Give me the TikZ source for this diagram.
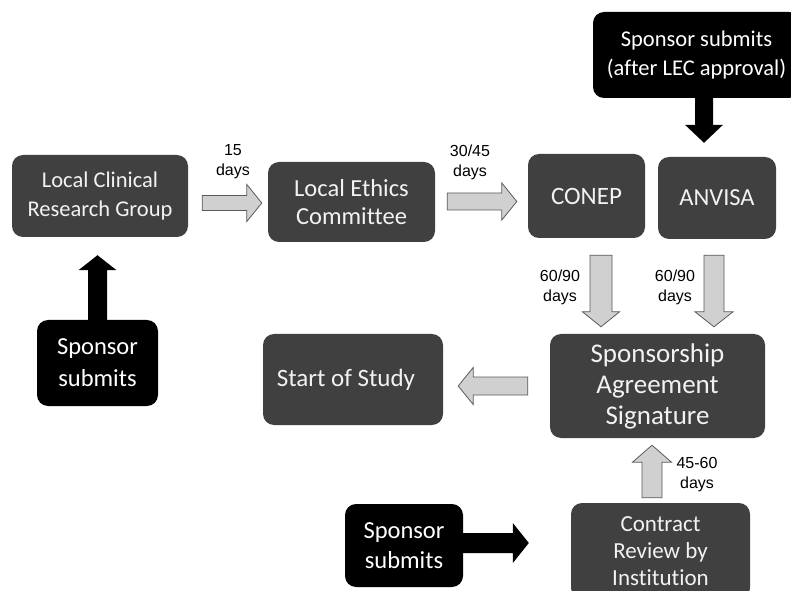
\documentclass[tikz,border=0pt]{standalone}
\usepackage{fontspec}
\setmainfont{Carlito}[Ligatures=NoCommon]
\newfontfamily\labfont{Liberation Sans}
\usetikzlibrary{calc}
\definecolor{boxgray}{HTML}{404040}
\definecolor{boxtext}{HTML}{F2F2F2}
\definecolor{arrfill}{HTML}{D0D0D0}
\definecolor{arredge}{HTML}{5A5A5A}
% #1 style, #2 start, #3 tip, #4 shaft half width, #5 head half width, #6 head length
\newcommand\blockarrow[6]{%
  \path[#1] let \p1=(#2), \p2=(#3),
    \n1={veclen(\x2-\x1,\y2-\y1)}, \n2={atan2(\y2-\y1,\x2-\x1)} in
    [shift={(\p1)}, rotate=\n2]
    (0,-#4) -- ({\n1-#6},-#4) -- ({\n1-#6},-#5) -- (\n1,0) --
    ({\n1-#6},#5) -- ({\n1-#6},#4) -- (0,#4) -- cycle;}
\begin{document}
\begin{tikzpicture}[x=1pt,y=1pt,
  box/.style={rounded corners=11pt, fill=boxgray, text=boxtext, align=center, inner sep=0pt},
  sbox/.style={box, fill=black, text=white},
  sz/.style 2 args={minimum width=#1, minimum height=#2},
  fnt/.style 2 args={font=\fontsize{#1}{#2}\selectfont},
  lab/.style={font=\labfont\fontsize{16}{20}\selectfont, align=center, inner sep=0pt},
  garrow/.style={fill=arrfill, draw=arredge, line width=0.8pt, line join=miter},
  barrow/.style={fill=black}]
\useasboundingbox (0,0) rectangle (793,590);
\fill[white] (0,0) rectangle (793,590);

% boxes
\node[box, sz={176pt}{82pt}, fnt={22.5}{29}] (lcrg) at (100,394) {Local Clinical\\Research Group};
\node[box, sz={167pt}{80pt}, fnt={24.5}{28}] (lec) at (351.5,388) {Local Ethics\\Committee};
\node[box, sz={117pt}{84pt}, fnt={25}{30}] (conep) at (586.5,394) {CONEP};
\node[box, sz={118pt}{82pt}, fnt={24.5}{30}] (anvisa) at (717,392) {ANVISA};
\node[sbox, sz={207pt}{86pt}, fnt={22.5}{29}] (sponTop) at (696.5,535) {Sponsor submits\\(after LEC approval)};
\node[sbox, sz={121pt}{86pt}, fnt={24.5}{32}] (sponLeft) at (97.5,227) {Sponsor\\submits};
\node[box, sz={180pt}{91pt}, fnt={25}{30}] (start) at (353,210.5) {Start of Study\hspace*{14pt}};
\node[box, sz={215pt}{104pt}, fnt={27}{31}] (sas) at (657.5,204) {Sponsorship\\Agreement\\Signature};
\node[box, sz={179pt}{96pt}, fnt={23}{27}] (crbi) at (660.5,39) {Contract\\Review by\\Institution};
\node[sbox, sz={118pt}{83pt}, fnt={24.5}{30}] (sponBot) at (404,44.5) {Sponsor\\submits};
% the reference is cropped just right of the top box
\fill[white] (791,400) rectangle (793,590);

% gray block arrows
\blockarrow{garrow}{$(lcrg.east|-lec.west)+(14,-1)$}{$(lec.west)+(-6,-1)$}{7.5}{18.5}{15}
\blockarrow{garrow}{$(lec.east)+(12,0.5)$}{$(conep.west|-lec.east)+(-11,0.5)$}{8.5}{18.5}{15}
\blockarrow{garrow}{$(conep.south)+(14.5,-17)$}{$(conep.south|-sas.north)+(14.5,7)$}{11}{18.5}{15}
\blockarrow{garrow}{$(anvisa.south)+(-3,-16)$}{$(anvisa.south|-sas.north)+(-3,7)$}{10}{19}{15}
\blockarrow{garrow}{$(sas.west)+(-22,0)$}{$(start.east|-sas.west)+(15,0)$}{9}{18.5}{15}
\blockarrow{garrow}{$(crbi.north)+(-8.5,5)$}{$(crbi.north|-sas.south)+(-8.5,-7)$}{10}{19.5}{17}

% black block arrows
\blockarrow{barrow}{$(sponTop.south-|anvisa.north)+(-13,1)$}{$(anvisa.north)+(-13,14)$}{9}{19}{18}
\blockarrow{barrow}{$(sponLeft.north)+(0,-1)$}{$(sponLeft.north|-lcrg.south)+(0,-18)$}{9.5}{19}{15}
\blockarrow{barrow}{$(sponBot.east)+(-1,2.5)$}{$(crbi.west|-sponBot.east)+(-42,2.5)$}{10}{20}{16}

% labels
\node[lab] (l15) at (233,428) {15\\days};
\node[lab] (l3045) at (470,428) {30/45\\days};
\node[lab] (l6090a) at (560,303) {60/90\\days};
\node[lab] (l6090b) at (675,303) {60/90\\days};
\node[lab] (l4560) at (697,115) {45-60\\days};
\end{tikzpicture}
\end{document}
